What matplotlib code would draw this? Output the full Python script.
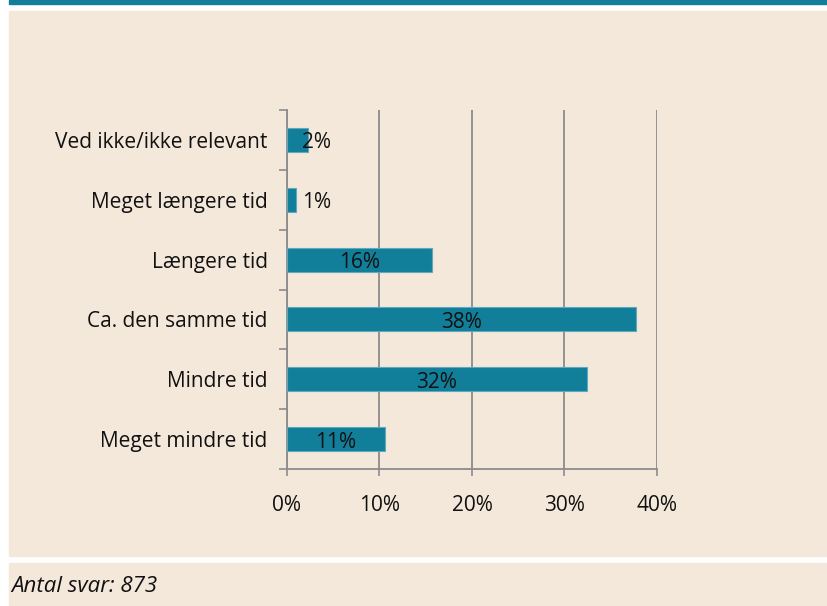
import matplotlib.pyplot as plt
import numpy as np
from matplotlib.patches import Rectangle

plt.rcParams['font.family'] = ['Open Sans', 'DejaVu Sans']

categories = ['Meget mindre tid', 'Mindre tid', 'Ca. den samme tid',
              'Længere tid', 'Meget længere tid', 'Ved ikke/ikke relevant']
values = [10.6, 32.4, 37.7, 15.7, 1.0, 2.3]
labels = ['11%', '32%', '38%', '16%', '1%', '2%']
xticks = [0, 10, 20, 30, 40]
note = 'Antal svar: 873'

bar_color = '#117E9A'
beige = '#F4E8DB'
axis_gray = '#8C8C8C'
fs = 15

fig = plt.figure(figsize=(8.28, 6.06), dpi=100, facecolor='white')
W, H = 828, 606

# background panels
fig.patches.append(Rectangle((9/W, 1 - 4/H), 1, 4/H, transform=fig.transFigure,
                             color='#127E9B', zorder=-10))
fig.patches.append(Rectangle((9/W, 1 - 556/H), 1, 545/H, transform=fig.transFigure,
                             color=beige, zorder=-10))
fig.patches.append(Rectangle((9/W, 0), 1, 43/H, transform=fig.transFigure,
                             color=beige, zorder=-10))

ax = fig.add_axes([287/W, 1 - 469/H, 370/W, 359/H])
ax.set_facecolor('none')

y = np.arange(len(categories))
ax.barh(y, values, height=0.4, color=bar_color, edgecolor='#5FA8BE', linewidth=0.8, zorder=3)

for yi, v, lab in zip(y, values, labels):
    ax.text(max(v / 2, 3.2), yi - 0.05, lab, ha='center', va='center',
            fontsize=fs, color='#111111', zorder=4)

ax.set_xlim(0, 40)
ax.set_ylim(-0.5, len(categories) - 0.5)
ax.set_xticks(xticks)
ax.set_xticklabels([f'{t}%' for t in xticks], fontsize=fs, color='#111111')
ax.tick_params(axis='x', length=5, width=1.2, color=axis_gray, pad=14)

ax.set_yticks(np.arange(len(categories) + 1) - 0.5)
ax.set_yticklabels([])
ax.set_yticks(y, minor=True)
ax.set_yticklabels(categories, minor=True, fontsize=fs, color='#111111')
ax.tick_params(axis='y', which='major', length=6, width=1.2, color=axis_gray)
ax.tick_params(axis='y', which='minor', length=0, pad=14)

ax.grid(axis='x', color=axis_gray, linewidth=1.3, zorder=1)
for s in ['top', 'right']:
    ax.spines[s].set_visible(False)
for s in ['left', 'bottom']:
    ax.spines[s].set_color(axis_gray)
    ax.spines[s].set_linewidth(1.3)

fig.text(11/W, 20/H, note, fontsize=16, style='italic', color='#111111', va='center')

fig.savefig('out.png', dpi=100, facecolor='white')
